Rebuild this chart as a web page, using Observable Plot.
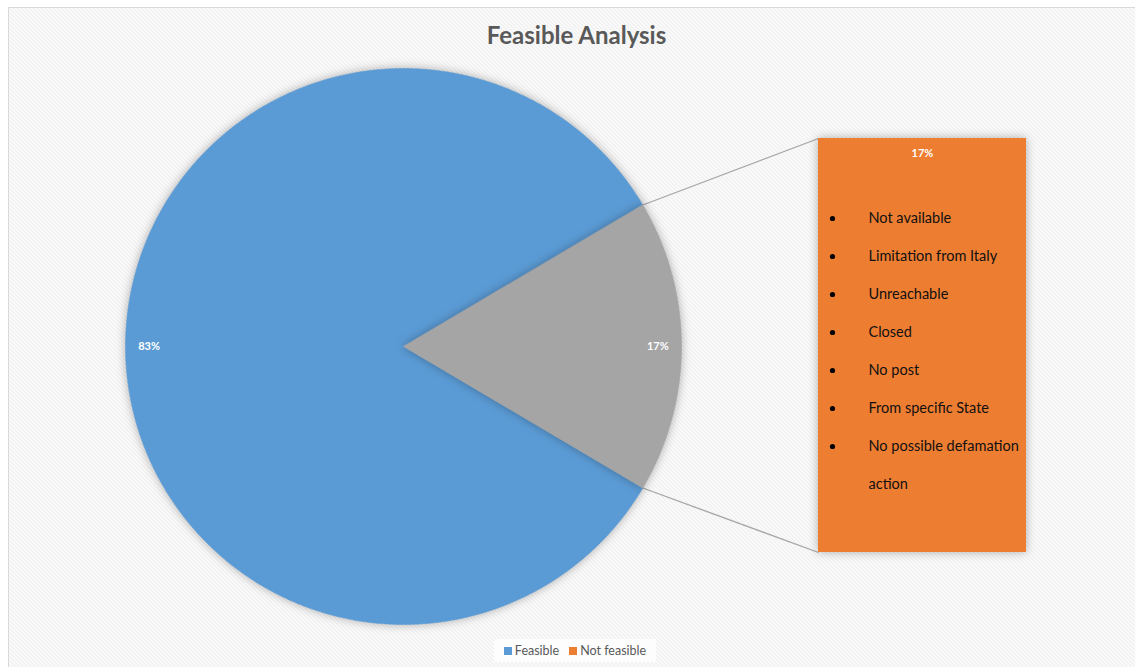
<!DOCTYPE html>
<html>
<head>
<meta charset="utf-8">
<script src="https://cdn.jsdelivr.net/npm/d3@7"></script>
<script src="https://cdn.jsdelivr.net/npm/@observablehq/plot@0.6"></script>
<style>
html, body { margin: 0; padding: 0; background: #fff; width: 1135px; height: 667px; overflow: hidden; }
#frame { position: absolute; left: 8px; top: 7px; width: 1140px; height: 670px;
  border-left: 1.5px solid #d9d9d9; border-top: 1.5px solid #d9d9d9;
  background-color: #f9f9f9;
  background-image: url("data:image/svg+xml,%3Csvg xmlns='http://www.w3.org/2000/svg' width='4' height='4'%3E%3Crect width='4' height='4' fill='%23fbfbfb'/%3E%3Cpath d='M-1,3 L1,5 M0,0 L4,4 M3,-1 L5,1' stroke='%23efefef' stroke-width='1.2'/%3E%3C/svg%3E");
  background-size: 4px 4px; }
#chart { position: absolute; left: 0; top: 0; }
#legend { position: absolute; left: 494px; top: 639px; width: 162px; height: 23px; background: #fdfdfd;
  display: flex; align-items: center; justify-content: center; }
#legend * { font-family: Lato, "Open Sans", sans-serif !important; font-size: 12.5px !important; color: #595959 !important; margin-bottom: 0 !important; }
#legend span { margin-right: 0.8em !important; }
#legend span:last-child { margin-right: 0 !important; }
#legend svg { margin-right: 3px !important; }
</style>
</head>
<body>
<div id="frame"></div>
<div id="chart"></div>
<div id="legend"></div>
<script>
// ---- data ----
const title = "Feasible Analysis";
const categories = ["Feasible", "Not feasible"];
const shares = [83, 17];
const detailItems = [
  "Not available",
  "Limitation from Italy",
  "Unreachable",
  "Closed",
  "No post",
  "From specific State",
  "No possible defamation action"
];

// ---- styles ----
const BLUE = "#5B9BD5", GRAY = "#A5A5A5", ORANGE = "#ED7D31";
const FONT = "Lato, 'Open Sans', sans-serif";

// ---- layout (pixels) ----
const CX = 403, CY = 346, R = 278;
const X = px => (px - CX) / R;
const Y = py => (CY - py) / R;
const BAR = {left: 818, right: 1026, top: 138, bottom: 552};
const ROW0 = 218, ROWSTEP = 38;

const total = d3.sum(shares);
const pct = d3.format(".0%");
const half = Math.PI * shares[1] / total;
const slices = [
  {name: categories[0], value: shares[0], a0: half, a1: 2 * Math.PI - half, fill: BLUE},
  {name: categories[1], value: shares[1], a0: -half, a1: half, fill: GRAY}
];
function arcPoints(s) {
  const pts = [{x: 0, y: 0, name: s.name}];
  const n = Math.ceil((s.a1 - s.a0) / (Math.PI / 360));
  for (let i = 0; i <= n; i++) {
    const a = s.a0 + (s.a1 - s.a0) * i / n;
    pts.push({x: Math.cos(a), y: Math.sin(a), name: s.name});
  }
  return pts;
}
const sliceLabels = slices.map(s => {
  const m = (s.a0 + s.a1) / 2;
  return {x: 0.915 * Math.cos(m), y: 0.915 * Math.sin(m), text: pct(s.value / total)};
});

// bar represents the "Not feasible" share, stacked from 0 to value
const barY = d3.scaleLinear().domain([0, shares[1]]).range([Y(BAR.bottom), Y(BAR.top)]);
const barData = [{name: categories[1], value: shares[1]}];

const connectors = [
  {x1: Math.cos(half), y1: Math.sin(half), x2: X(BAR.left), y2: barY(shares[1])},
  {x1: Math.cos(-half), y1: Math.sin(-half), x2: X(BAR.left), y2: barY(0)}
];

const fs = 14.5, lh = 2.62;
const plot = Plot.plot({
  width: 1135,
  height: 667,
  margin: 0,
  x: {domain: [-1, 1], range: [CX - R, CX + R], axis: null},
  y: {domain: [-1, 1], range: [CY + R, CY - R], axis: null},
  style: {background: "transparent", fontFamily: FONT, overflow: "visible"},
  marks: [
    Plot.link(connectors, {x1: "x1", y1: "y1", x2: "x2", y2: "y2", stroke: "#a6a6a6", strokeWidth: 1.3}),
    Plot.rect(barData, {x1: X(BAR.left), x2: X(BAR.right), y1: barY(0), y2: d => barY(d.value), fill: ORANGE}),
    ...slices.map(s => Plot.line(arcPoints(s), {x: "x", y: "y", fill: s.fill, stroke: s.fill, strokeWidth: 0.5, curve: "linear-closed"})),
    Plot.text(sliceLabels, {x: "x", y: "y", text: "text", fill: "#fff", fontWeight: "bold", fontSize: 11}),
    Plot.text(barData, {x: X((BAR.left + BAR.right) / 2), y: Y(153), text: d => pct(d.value / total), fill: "#fff", fontWeight: "bold", fontSize: 11}),
    Plot.dot(detailItems, {x: X(832), y: (d, i) => Y(ROW0 + ROWSTEP * i), r: 2.6, fill: "#000", stroke: "none"}),
    Plot.text(detailItems, {x: X(868), y: (d, i) => Y(ROW0 + ROWSTEP * i), text: d => d, textAnchor: "start",
      lineAnchor: "top", lineHeight: lh, lineWidth: 12, fontSize: fs, fill: "#111", dy: 5 - 0.71 * lh * fs}),
    Plot.text([title], {x: X(576), y: Y(36), text: d => d, fontSize: 24, fontWeight: "bold", fill: "#595959"})
  ]
});
const svg = d3.select(plot);
svg.selectAll('g[aria-label="line"], g[aria-label="rect"]').style("filter", "drop-shadow(0px 0px 5px rgba(0,0,0,0.3))");
document.getElementById("chart").appendChild(plot);

const legend = Plot.legend({color: {type: "categorical", domain: categories, range: [BLUE, ORANGE]}, swatchSize: 8});
document.getElementById("legend").appendChild(legend);
</script>
</body>
</html>
